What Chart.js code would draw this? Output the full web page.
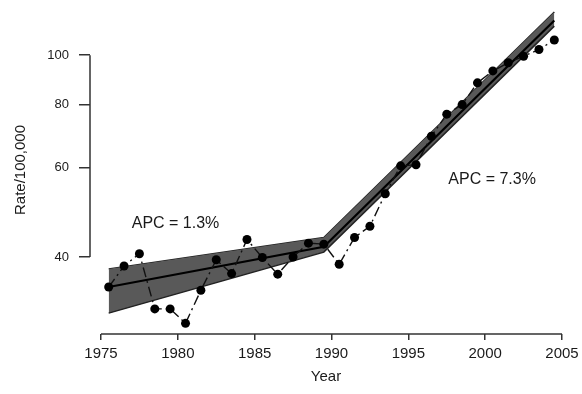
<!DOCTYPE html>
<html>
<head>
<meta charset="utf-8">
<script src="https://cdn.jsdelivr.net/npm/chart.js@4/dist/chart.umd.min.js"></script>
<style>
  html, body { margin: 0; padding: 0; background: #ffffff; }
  #wrap { width: 582px; height: 394px; }
</style>
</head>
<body>
<div id="wrap"><canvas id="c" width="582" height="394"></canvas></div>
<script>
// ---- data ----
const years = [1975, 1976, 1977, 1978, 1979, 1980, 1981, 1982, 1983, 1984,
               1985, 1986, 1987, 1988, 1989, 1990, 1991, 1992, 1993, 1994,
               1995, 1996, 1997, 1998, 1999, 2000, 2001, 2002, 2003, 2004];
const rates = [34.9, 38.4, 40.6, 31.6, 31.6, 29.6, 34.4, 39.5, 37.1, 43.3,
               39.9, 37.0, 40.0, 42.6, 42.4, 38.7, 43.7, 46.0, 53.3, 60.5,
               60.8, 69.2, 76.5, 79.9, 88.2, 93.1, 96.6, 99.5, 102.6, 107.1];
// joinpoint model (knots: start, joinpoint, end)
const fitYears = [1975, 1989, 2004];
const fitRates = [34.9, 41.9, 117.0];
const fitUpper = [37.9, 43.7, 121.6];
const fitLower = [31.0, 40.9, 114.1];
const xTicks = [1975, 1980, 1985, 1990, 1995, 2000, 2005];
const yTicks = [40, 60, 80, 100];
const apcLabels = ['APC = 1.3%', 'APC = 7.3%'];
const apcAnchorYears = [1977.0, 1997.6];
const apcAnchorRates = [46.6, 56.9];

// annual rates are plotted at mid-year
const MID = 0.5;
const pts = (xs, ys) => xs.map((v, i) => ({ x: v + MID, y: ys[i] }));

const FONT = "'Liberation Sans', Arial, Helvetica, sans-serif";
const INK = '#1a1a1a';

const axisAndNotes = {
  id: 'axisAndNotes',
  afterDraw(chart) {
    const { ctx, chartArea, scales: { x, y } } = chart;
    ctx.save();
    ctx.strokeStyle = '#333';
    ctx.lineWidth = 1.5;
    ctx.beginPath();
    ctx.moveTo(chartArea.left, y.getPixelForValue(yTicks[0]));
    ctx.lineTo(chartArea.left, y.getPixelForValue(yTicks[yTicks.length - 1]));
    ctx.moveTo(x.getPixelForValue(xTicks[0]), chartArea.bottom);
    ctx.lineTo(x.getPixelForValue(xTicks[xTicks.length - 1]), chartArea.bottom);
    ctx.stroke();
    ctx.fillStyle = INK;
    ctx.font = '16px ' + FONT;
    ctx.textAlign = 'left';
    ctx.textBaseline = 'middle';
    apcLabels.forEach((t, i) => {
      ctx.fillText(t, x.getPixelForValue(apcAnchorYears[i]), y.getPixelForValue(apcAnchorRates[i]));
    });
    ctx.restore();
  }
};

new Chart(document.getElementById('c'), {
  type: 'line',
  data: {
    datasets: [
      {
        label: 'Observed',
        data: pts(years, rates),
        borderColor: '#111',
        borderWidth: 1.4,
        borderDash: [10, 4, 2, 4],
        pointRadius: 4.5,
        pointBackgroundColor: '#000',
        pointBorderWidth: 0,
        fill: false,
        order: 0
      },
      {
        label: 'Fit',
        data: pts(fitYears, fitRates),
        borderColor: '#000',
        borderWidth: 2.2,
        pointRadius: 0,
        fill: false,
        order: 1
      },
      {
        label: 'Upper',
        data: pts(fitYears, fitUpper),
        borderColor: '#222',
        borderWidth: 1.5,
        pointRadius: 0,
        fill: false,
        order: 3
      },
      {
        label: 'Lower',
        data: pts(fitYears, fitLower),
        borderColor: '#222',
        borderWidth: 1.5,
        pointRadius: 0,
        backgroundColor: '#595959',
        fill: '-1',
        order: 2
      }
    ]
  },
  options: {
    responsive: false,
    animation: false,
    events: [],
    layout: { padding: { top: 6, right: 20, bottom: 0, left: 0 } },
    plugins: { legend: { display: false }, tooltip: { enabled: false } },
    scales: {
      x: {
        type: 'linear',
        bounds: 'data',
        min: 1974.284,
        max: 2005,
        afterBuildTicks: s => { s.ticks = xTicks.map(v => ({ value: v })); },
        afterFit: s => { s.height = 60; s.paddingLeft = 0; s.paddingRight = 0; },
        border: { display: false },
        grid: { drawOnChartArea: false, drawTicks: true, tickLength: 6, color: '#333', lineWidth: 1.5 },
        ticks: { color: INK, font: { family: FONT, size: 15 }, padding: 5, maxRotation: 0, autoSkip: false, callback: v => String(v) },
        title: { display: true, text: 'Year', color: INK, font: { family: FONT, size: 15 }, padding: { top: 0, bottom: 8 } }
      },
      y: {
        type: 'logarithmic',
        bounds: 'data',
        min: 28.2,
        max: 125,
        afterBuildTicks: s => { s.ticks = yTicks.map(v => ({ value: v })); },
        afterFit: s => { s.width = 90; s.paddingTop = 0; s.paddingBottom = 0; },
        border: { display: false },
        grid: { drawOnChartArea: false, drawTicks: true, tickLength: 11, color: '#333', lineWidth: 1.5 },
        ticks: { color: INK, font: { family: FONT, size: 13 }, padding: 10, autoSkip: false, callback: v => String(v) },
        title: { display: true, text: 'Rate/100,000', color: INK, font: { family: FONT, size: 15 }, padding: { top: 12, bottom: 0 } }
      }
    }
  },
  plugins: [axisAndNotes]
});
</script>
</body>
</html>
